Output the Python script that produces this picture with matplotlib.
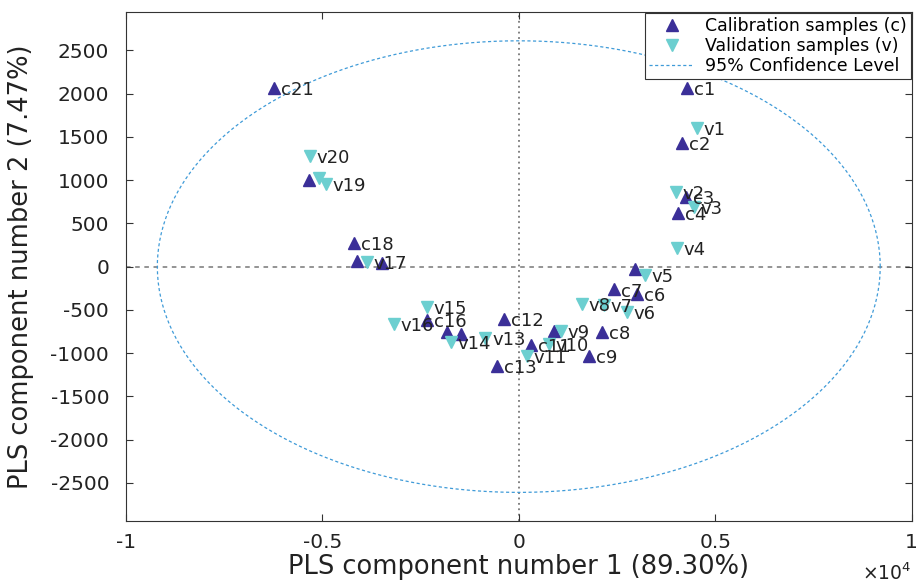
import matplotlib
matplotlib.use('Agg')
import matplotlib.pyplot as plt
import numpy as np
from matplotlib.ticker import FuncFormatter, MultipleLocator

plt.rcParams['font.family'] = ['DejaVu Sans']
plt.rcParams['axes.unicode_minus'] = False

# scores (x = PLS component 1, y = PLS component 2)
cal_x = [4280, 4150, 4250, 4050, 2960, 3000, 2420, 2110, 1780, 890, 300,
         -380, -560, -1830, -1480, -2340, -4120, -4200, -5340, -3490, -6230]
cal_y = [2060, 1433, 803, 620, -30, -321, -264, -757, -1032, -745, -905,
         -608, -1147, -757, -780, -620, 69, 275, 998, 46, 2064]
cal_lab = ['c1', 'c2', 'c3', 'c4', '', 'c6', 'c7', 'c8', 'c9', '', 'c11',
           'c12', 'c13', '', '', 'c16', '', 'c18', '', '', 'c21']

val_x = [4530, 4000, 4450, 4020, 3210, 2750, 2160, 1600, 1070, 760, 200,
         -850, -1730, -2340, -3180, -3870, -5090, -4910, -5320]
val_y = [1605, 860, 688, 218, -92, -528, -440, -436, -745, -895, -1032,
         -820, -872, -470, -665, 57, 1020, 952, 1284]
val_lab = ['v1', 'v2', 'v3', 'v4', 'v5', 'v6', 'v7', 'v8', 'v9', 'v10', 'v11',
           'v13', 'v14', 'v15', 'v16', 'v17', '', 'v19', 'v20']

# 95% confidence ellipse semi-axes
ell_a = 9200
ell_b = 2610

c_cal = '#3b2f98'
c_val = '#6ccfd0'
c_ell = '#3f9bd8'

fig = plt.figure(figsize=(9.19, 5.84), dpi=100)
ax = fig.add_axes([0.137, 0.108, 0.855, 0.871])

# zero lines
ax.axhline(0, color='#777777', ls=(0, (3, 3)), lw=1.1, zorder=1)
ax.axvline(0, color='#777777', ls=(0, (1, 2)), lw=1.3, zorder=1)

ax.plot(cal_x, cal_y, '^', color=c_cal, ms=9, ls='none',
        label='Calibration samples (c)', zorder=3)
ax.plot(val_x, val_y, 'v', color=c_val, ms=9, ls='none',
        label='Validation samples (v)', zorder=4)

t = np.linspace(0, 2 * np.pi, 400)
ax.plot(ell_a * np.cos(t), ell_b * np.sin(t), color=c_ell, ls=(0, (2.5, 2)),
        lw=0.9, label='95% Confidence Level', zorder=2)

# sample labels
for x, y, s in zip(cal_x, cal_y, cal_lab):
    if s:
        ax.annotate(s, (x, y), xytext=(5, -1.5), textcoords='offset points',
                    ha='left', va='center', fontsize=13, color='#222222', zorder=5)
for x, y, s in zip(val_x, val_y, val_lab):
    if s:
        ax.annotate(s, (x, y), xytext=(5, -1.5), textcoords='offset points',
                    ha='left', va='center', fontsize=13, color='#222222', zorder=5)

ax.set_xlim(-10000, 10000)
ax.set_ylim(-2940, 2940)
ax.xaxis.set_major_locator(MultipleLocator(5000))
ax.yaxis.set_major_locator(MultipleLocator(500))
ax.xaxis.set_major_formatter(FuncFormatter(lambda v, p: '%g' % (v / 1e4)))
ax.tick_params(direction='in', top=True, right=True, labelsize=14.5,
               length=5, color='#333333', labelcolor='#222222')
ax.tick_params(axis='y', pad=12)
ax.tick_params(axis='x', pad=9)
for sp in ax.spines.values():
    sp.set_color('#333333')

ax.set_xlabel('PLS component number 1 (89.30%)', fontsize=18.5, color='#222222')
ax.set_ylabel('PLS component number 2 (7.47%)', fontsize=18.5, color='#222222')
ax.xaxis.set_label_coords(0.5, -0.066)
ax.yaxis.set_label_coords(-0.117, 0.5)
ax.text(1.0, -0.082, r'$\times10^{4}$', transform=ax.transAxes, fontsize=13.5,
        ha='right', va='top', color='#222222')

leg = ax.legend(loc='upper right', fontsize=12.5, fancybox=False, framealpha=1,
                edgecolor='#333333', borderaxespad=0.05, handlelength=2.6,
                borderpad=0.25, labelspacing=0.1, handletextpad=0.6)
leg.get_frame().set_linewidth(0.8)

fig.savefig('out.png', dpi=100)
